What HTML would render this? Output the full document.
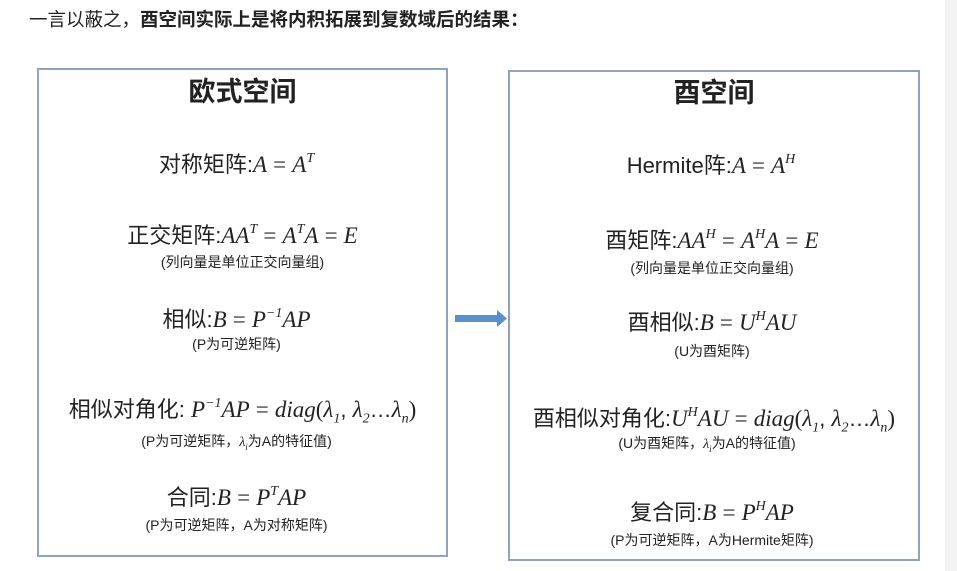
<!DOCTYPE html>
<html><head><meta charset="utf-8"><style>
body{margin:0;width:957px;height:571px;background:#fff;position:relative;overflow:hidden;font-family:"Liberation Sans","Noto Sans CJK SC",sans-serif;color:#222}
.side{position:absolute;top:0;right:0;width:12px;height:571px;background:#f3f3f3}
.box{position:absolute;border:2px solid #8fa3bd;background:#fff}
.l{position:absolute;left:0;right:0;text-align:center;white-space:nowrap;line-height:26px}
.t{font-size:27px;font-weight:bold}
.m{font-size:22px}
.n{font-size:14px;line-height:18px}
i{font-family:"Liberation Serif","DejaVu Serif",serif;font-size:23px}
sup{font-size:14px;font-family:"Liberation Serif",serif;font-style:italic;vertical-align:10px;line-height:0}
sub{font-size:14px;font-family:"Liberation Serif",serif;font-style:italic;line-height:0}
.eq{font-family:"Liberation Serif",serif;font-size:23px;font-style:normal}
</style></head><body>
<div class="side"></div>
<div style="position:absolute;left:29px;top:7px;font-size:18.5px;line-height:26px;white-space:nowrap">一言以蔽之，<b>酉空间实际上是将内积拓展到复数域后的结果：</b></div>

<div class="box" style="left:37px;top:68px;width:407px;height:485px">
<div class="l t" style="top:9px">欧式空间</div>
<div class="l m" style="top:82px;left:-12px">对称矩阵:<i>A</i> <span class="eq">=</span> <i>A</i><sup>T</sup></div>
<div class="l m" style="top:153px">正交矩阵:<i>AA</i><sup>T</sup> <span class="eq">=</span> <i>A</i><sup>T</sup><i>A</i> <span class="eq">=</span> <i>E</i></div>
<div class="l n" style="top:183px">(列向量是单位正交向量组)</div>
<div class="l m" style="top:237px;left:-12px">相似:<i>B</i> <span class="eq">=</span> <i>P</i><sup>−1</sup><i>AP</i></div>
<div class="l n" style="top:265px;left:-12px">(P为可逆矩阵)</div>
<div class="l m" style="top:327px">相似对角化: <i>P</i><sup>−1</sup><i>AP</i> <span class="eq">=</span> <i>diag</i><span class="eq">(</span><i>λ</i><sub>1</sub>, <i>λ</i><sub>2</sub>…<i>λ</i><sub>n</sub><span class="eq">)</span></div>
<div class="l n" style="top:362px;left:-12px">(P为可逆矩阵，<i style="font-size:14px">λ<sub style="font-size:9px">i</sub></i>为A的特征值)</div>
<div class="l m" style="top:415px;left:-12px">合同:<i>B</i> <span class="eq">=</span> <i>P</i><sup>T</sup><i>AP</i></div>
<div class="l n" style="top:446px;left:-12px">(P为可逆矩阵，A为对称矩阵)</div>
</div>

<svg style="position:absolute;left:454px;top:309px" width="54" height="20"><polygon points="1,6 43,6 43,1 53,9.5 43,18 43,13 1,13" fill="#5b8fcb"/></svg>

<div class="box" style="left:508px;top:70px;width:408px;height:487px">
<div class="l t" style="top:8px">酉空间</div>
<div class="l m" style="top:81px;left:-6px">Hermite阵:<i>A</i> <span class="eq">=</span> <i>A</i><sup>H</sup></div>
<div class="l m" style="top:156px;left:-4px">酉矩阵:<i>AA</i><sup>H</sup> <span class="eq">=</span> <i>A</i><sup>H</sup><i>A</i> <span class="eq">=</span> <i>E</i></div>
<div class="l n" style="top:187px;left:-4px">(列向量是单位正交向量组)</div>
<div class="l m" style="top:238px;left:-4px">酉相似:<i>B</i> <span class="eq">=</span> <i>U</i><sup>H</sup><i>AU</i></div>
<div class="l n" style="top:270px;left:-4px">(U为酉矩阵)</div>
<div class="l m" style="top:334px">酉相似对角化:<i>U</i><sup>H</sup><i>AU</i> <span class="eq">=</span> <i>diag</i><span class="eq">(</span><i>λ</i><sub>1</sub>, <i>λ</i><sub>2</sub>…<i>λ</i><sub>n</sub><span class="eq">)</span></div>
<div class="l n" style="top:362px;left:-14px">(U为酉矩阵，<i style="font-size:14px">λ<sub style="font-size:9px">i</sub></i>为A的特征值)</div>
<div class="l m" style="top:428px;left:-4px">复合同:<i>B</i> <span class="eq">=</span> <i>P</i><sup>H</sup><i>AP</i></div>
<div class="l n" style="top:459px;left:-4px">(P为可逆矩阵，A为Hermite矩阵)</div>
</div>
</body></html>
